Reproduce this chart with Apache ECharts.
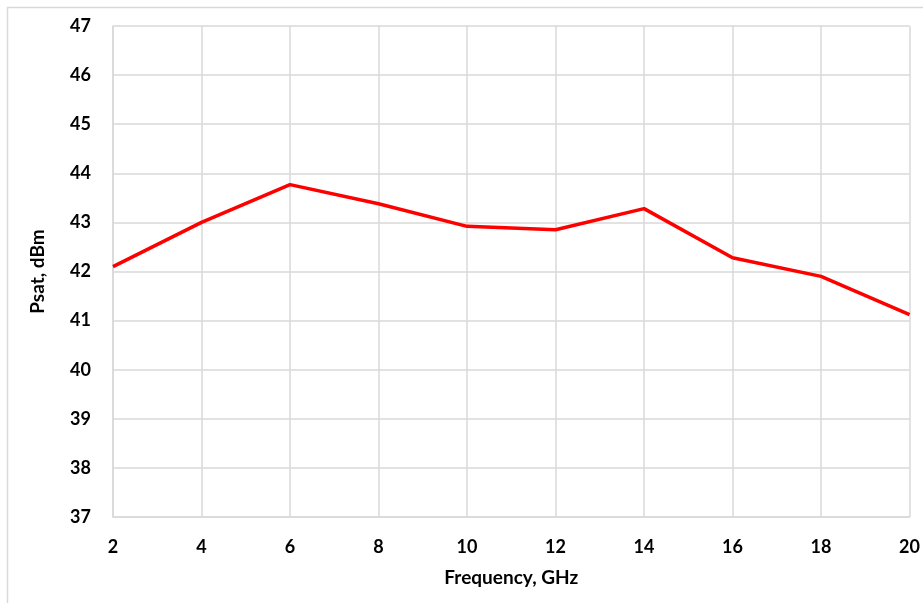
<!DOCTYPE html>
<html>
<head>
<meta charset="utf-8">
<script src="https://cdn.jsdelivr.net/npm/echarts@6/dist/echarts.min.js"></script>
<style>html,body{margin:0;padding:0;background:#fff}#c{width:923px;height:603px}</style>
</head>
<body>
<div id="c"></div>
<script>
var frequency = [2, 4, 6, 8, 10, 12, 14, 16, 18, 20];
var psat = [42.10, 43.00, 43.77, 43.38, 42.92, 42.85, 43.28, 42.28, 41.90, 41.12];
var xTicks = {min: 2, max: 20, interval: 2};
var yTicks = {min: 37, max: 47, interval: 1};

var chart = echarts.init(document.getElementById('c'));
var gridColor = '#d9d9d9';
var font = 'Lato';
chart.setOption({
  animation: false,
  graphic: [{
    type: 'rect', left: 5, top: 5,
    shape: {width: 940, height: 620},
    style: {fill: 'none', stroke: gridColor, lineWidth: 1.5}
  }],
  grid: {left: 113, right: 13, top: 26, bottom: 86},
  xAxis: {
    type: 'value', min: xTicks.min, max: xTicks.max, interval: xTicks.interval,
    name: 'Frequency, GHz', nameLocation: 'middle', nameGap: 51,
    nameTextStyle: {fontFamily: font, fontWeight: 'bold', fontSize: 19, color: '#000'},
    axisLine: {show: true, lineStyle: {color: gridColor, width: 1.5}},
    axisTick: {show: false},
    axisLabel: {margin: 21, fontFamily: font, fontWeight: 'bold', fontSize: 18, color: '#000'},
    splitLine: {show: true, lineStyle: {color: gridColor, width: 1.5}}
  },
  yAxis: {
    type: 'value', min: yTicks.min, max: yTicks.max, interval: yTicks.interval,
    name: 'Psat, dBm', nameLocation: 'middle', nameGap: 66,
    nameTextStyle: {fontFamily: font, fontWeight: 'bold', fontSize: 19, color: '#000'},
    axisLine: {show: true, lineStyle: {color: gridColor, width: 1.5}},
    axisTick: {show: false},
    axisLabel: {margin: 22, fontFamily: font, fontWeight: 'bold', fontSize: 18, color: '#000'},
    splitLine: {show: true, lineStyle: {color: gridColor, width: 1.5}}
  },
  series: [{
    type: 'line',
    data: frequency.map(function (f, i) { return [f, psat[i]]; }),
    showSymbol: false,
    lineStyle: {color: '#ff0000', width: 3.5},
    itemStyle: {color: '#ff0000'}
  }]
});
</script>
</body>
</html>
